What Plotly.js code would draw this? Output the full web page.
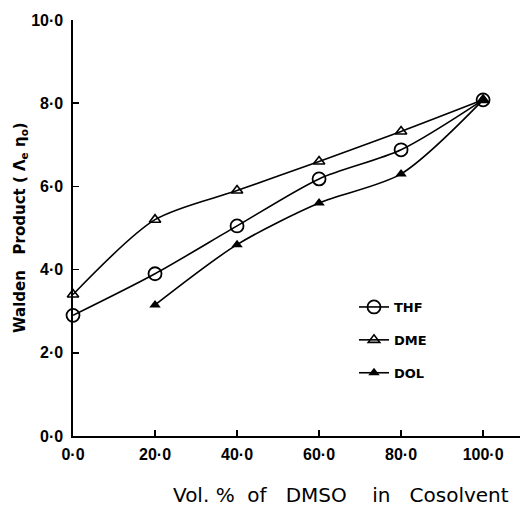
<!DOCTYPE html>
<html>
<head>
<meta charset="utf-8">
<script src="https://cdn.plot.ly/plotly-3.0.1.min.js"></script>
<style>html,body{margin:0;padding:0;background:#fff;}#chart{width:530px;height:508px;}</style>
</head>
<body>
<div id="chart"></div>
<script>
const xThf = [0, 20, 40, 60, 80, 100];
const yThf = [2.9, 3.9, 5.05, 6.18, 6.88, 8.08];
const xDme = [0, 20, 40, 60, 80, 100];
const yDme = [3.4, 5.2, 5.9, 6.6, 7.32, 8.08];
const xDol = [20, 40, 60, 80, 100];
const yDol = [3.15, 4.6, 5.6, 6.3, 8.08];
const xTickVals = [0, 20, 40, 60, 80, 100];
const xTickText = ['0·0', '20·0', '40·0', '60·0', '80·0', '100·0'];
const yTickVals = [0, 2, 4, 6, 8, 10];
const yTickText = ['0·0', '2·0', '4·0', '6·0', '8·0', '10·0'];

const fontFam = 'Liberation Sans, Arial, sans-serif';
const wideFam = 'DejaVu Sans, Verdana, sans-serif';
const lineStyle = {color: '#000', width: 1.6, shape: 'spline', smoothing: 0.8};

const traces = [
  {x: xThf, y: yThf, name: 'THF', legendgroup: 'a', mode: 'lines+markers', line: lineStyle,
   marker: {symbol: 'circle-open', size: 13, color: '#000', line: {width: 1.8, color: '#000'}}, cliponaxis: false},
  {x: xDme, y: yDme, name: 'DME', legendgroup: 'b', mode: 'lines+markers', line: lineStyle,
   marker: {symbol: 'triangle-up-open', size: 10, color: '#000', line: {width: 1.6, color: '#000'}}, cliponaxis: false},
  {x: xDol, y: yDol, name: 'DOL', legendgroup: 'c', mode: 'lines+markers', line: lineStyle,
   marker: {symbol: 'triangle-up', size: 10, color: '#000'}, cliponaxis: false}
];

const layout = {
  width: 530, height: 508,
  margin: {l: 73, r: 10, t: 20, b: 72},
  paper_bgcolor: '#fff', plot_bgcolor: '#fff',
  showlegend: true,
  legend: {x: (354 - 73) / 447, y: (436 - 292) / 416, xanchor: 'left', yanchor: 'top', bgcolor: 'rgba(0,0,0,0)',
           itemwidth: 30, tracegroupgap: 13,
           font: {family: wideFam, size: 13, color: '#000', weight: 'bold'}},
  xaxis: {range: [0, 109], showgrid: false, zeroline: false, showline: true, linecolor: '#000', linewidth: 1.6,
          ticks: 'inside', ticklen: 6, tickwidth: 1.5, tickcolor: '#000', ticklabelstandoff: 3,
          tickvals: xTickVals, ticktext: xTickText,
          tickfont: {family: fontFam, size: 16, color: '#000', weight: 'bold'}},
  yaxis: {range: [0, 10], showgrid: false, zeroline: false, showline: true, linecolor: '#000', linewidth: 1.6,
          ticks: 'inside', ticklen: 6, tickwidth: 1.5, tickcolor: '#000', ticklabelstandoff: 5,
          tickvals: yTickVals, ticktext: yTickText,
          tickfont: {family: fontFam, size: 16, color: '#000', weight: 'bold'}},
  annotations: [
    {xref: 'paper', yref: 'paper', x: (341 - 73) / 447, y: (436 - 495) / 416, xanchor: 'center', yanchor: 'middle',
     showarrow: false, text: 'Vol.&nbsp;%&nbsp;&nbsp;of&nbsp;&nbsp;&nbsp;DMSO&nbsp;&nbsp;&nbsp;&nbsp;in&nbsp;&nbsp;&nbsp;Cosolvent',
     font: {family: wideFam, size: 20, color: '#000'}},
    {xref: 'paper', yref: 'paper', x: (20 - 73) / 447, y: (436 - 228) / 416, xanchor: 'center', yanchor: 'middle',
     textangle: -90, showarrow: false, text: 'Walden&nbsp;&nbsp;&nbsp;Product&nbsp;(&nbsp;Λ<sub>e</sub>&nbsp;η<sub>o</sub>)',
     font: {family: wideFam, size: 15, color: '#000', weight: 'bold'}}
  ]
};

Plotly.newPlot('chart', traces, layout, {staticPlot: true, displayModeBar: false});
</script>
</body>
</html>
